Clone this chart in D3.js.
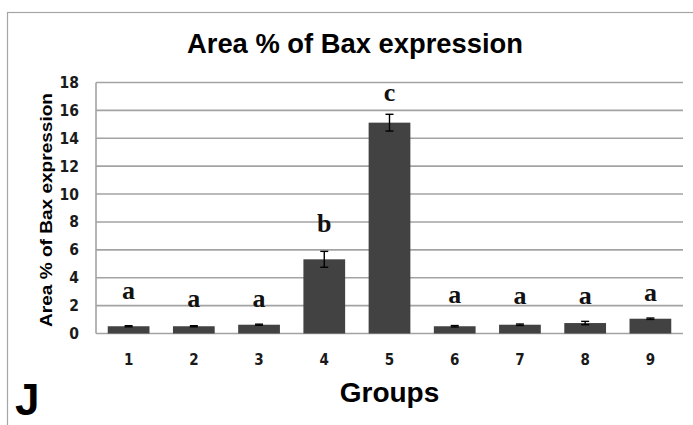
<!DOCTYPE html>
<html>
<head>
<meta charset="utf-8">
<script src="https://cdn.jsdelivr.net/npm/d3@7"></script>
<style>
  html, body { margin: 0; padding: 0; background: #fff; }
  svg { display: block; }
  .tick-num { font-family: "DejaVu Sans Condensed", "DejaVu Sans", sans-serif; font-stretch: condensed; font-weight: bold; fill: #1a1a1a; }
  .sans-b { font-family: "Liberation Sans", Arial, sans-serif; font-weight: bold; fill: #000; }
  .sig { font-family: "Liberation Serif", "Times New Roman", serif; font-weight: bold; fill: #111; }
</style>
</head>
<body>
<svg id="chart" width="693" height="425"></svg>
<script>
// Bax expression (area %) per treatment group
const groups = ["1", "2", "3", "4", "5", "6", "7", "8", "9"];
const meanArea = [0.52, 0.52, 0.63, 5.32, 15.12, 0.52, 0.63, 0.75, 1.06];
const errArea = [0.04, 0.04, 0.04, 0.57, 0.60, 0.05, 0.05, 0.12, 0.05];
const sigLetters = ["a", "a", "a", "b", "c", "a", "a", "a", "a"];
const yTicks = [0, 2, 4, 6, 8, 10, 12, 14, 16, 18];

// letter baselines, in axis units
const letterLevel = [2.44, 1.91, 1.91, 7.26, 16.64, 2.2, 2.08, 2.08, 2.36];

const svg = d3.select("#chart");

// outer frame
svg.append("rect")
  .attr("x", 7.5).attr("y", 12.5)
  .attr("width", 720).attr("height", 500)
  .attr("fill", "none").attr("stroke", "#a6a6a6").attr("stroke-width", 1.2);

const plot = { left: 96, right: 683, top: 82.5, bottom: 333.5 };

const x = d3.scaleBand()
  .domain(groups)
  .range([plot.left, plot.right])
  .paddingInner(0.36)
  .paddingOuter(0.18);

const y = d3.scaleLinear()
  .domain([0, 18])
  .range([plot.bottom, plot.top]);

// horizontal gridlines
svg.append("g")
  .selectAll("line")
  .data(yTicks)
  .join("line")
  .attr("x1", plot.left).attr("x2", plot.right)
  .attr("y1", d => y(d)).attr("y2", d => y(d))
  .attr("stroke", "#a3a3a3").attr("stroke-width", 1.6);

// left axis line
svg.append("line")
  .attr("x1", plot.left).attr("x2", plot.left)
  .attr("y1", plot.top).attr("y2", plot.bottom)
  .attr("stroke", "#a3a3a3").attr("stroke-width", 1.6);

// y axis labels
const yAxis = d3.axisLeft(y).tickValues(yTicks).tickSize(0).tickPadding(17);
const gy = svg.append("g")
  .attr("transform", `translate(${plot.left},0)`)
  .call(yAxis);
gy.select(".domain").remove();
gy.selectAll("text")
  .attr("class", "tick-num")
  .style("font-size", "15.5px");

// x axis labels
const xAxis = d3.axisBottom(x).tickSize(0).tickPadding(21);
const gx = svg.append("g")
  .attr("transform", `translate(0,${plot.bottom})`)
  .call(xAxis);
gx.select(".domain").remove();
gx.selectAll("text")
  .attr("class", "tick-num")
  .style("font-size", "15px");

// bars
svg.append("g")
  .selectAll("rect")
  .data(groups)
  .join("rect")
  .attr("x", d => x(d))
  .attr("width", x.bandwidth())
  .attr("y", (d, i) => y(meanArea[i]))
  .attr("height", (d, i) => y(0) - y(meanArea[i]))
  .attr("fill", "#424242");

// error bars
const eb = svg.append("g").attr("stroke", "#000").attr("stroke-width", 1.4);
groups.forEach((g, i) => {
  const cx = x(g) + x.bandwidth() / 2;
  const hi = y(meanArea[i] + errArea[i]);
  const lo = y(meanArea[i] - errArea[i]);
  eb.append("line").attr("x1", cx).attr("x2", cx).attr("y1", hi).attr("y2", lo);
  eb.append("line").attr("x1", cx - 4).attr("x2", cx + 4).attr("y1", hi).attr("y2", hi);
  eb.append("line").attr("x1", cx - 4).attr("x2", cx + 4).attr("y1", lo).attr("y2", lo);
});

// significance letters
svg.append("g")
  .selectAll("text")
  .data(groups)
  .join("text")
  .attr("class", "sig")
  .attr("x", d => x(d) + x.bandwidth() / 2)
  .attr("y", (d, i) => y(letterLevel[i]))
  .attr("text-anchor", "middle")
  .style("font-size", "26px")
  .text((d, i) => sigLetters[i]);

// title
svg.append("text")
  .attr("class", "sans-b")
  .attr("x", 355).attr("y", 53)
  .attr("text-anchor", "middle")
  .attr("textLength", 336).attr("lengthAdjust", "spacingAndGlyphs")
  .style("font-size", "28px")
  .text("Area % of Bax expression");

// y axis title
svg.append("text")
  .attr("class", "sans-b")
  .attr("transform", "translate(52,210) rotate(-90)")
  .attr("text-anchor", "middle")
  .attr("textLength", 234).attr("lengthAdjust", "spacingAndGlyphs")
  .style("font-size", "17px")
  .text("Area %  of Bax expression");

// x axis title
svg.append("text")
  .attr("class", "sans-b")
  .attr("x", (plot.left + plot.right) / 2).attr("y", 402)
  .attr("text-anchor", "middle")
  .style("font-size", "28px")
  .text("Groups");

// panel letter
svg.append("text")
  .attr("class", "sans-b")
  .attr("x", 15).attr("y", 415)
  .style("font-size", "44px")
  .text("J");
</script>
</body>
</html>
